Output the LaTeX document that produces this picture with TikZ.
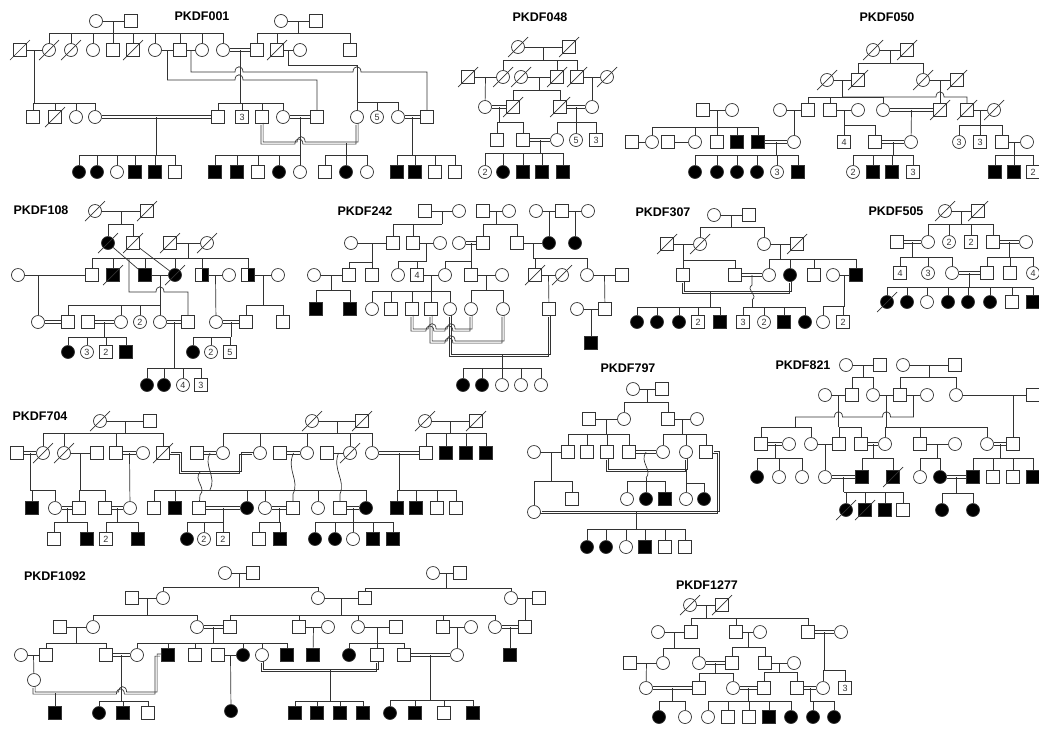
\documentclass[tikz,border=0pt]{standalone}
\usepackage{fontspec}
\setmainfont{Liberation Sans}
\newcommand\dead[1]{\foreach \nd in {#1}{\draw ([shift={(-10pt,-10pt)}]\nd.center) -- ([shift={(10pt,10pt)}]\nd.center);}}
\newcommand\mate[3]{\draw (#1) -- (#2) coordinate[midway] (#3);}
\newcommand\cmate[3]{\path (#1) -- (#2) coordinate[midway] (#3); \draw[con] (#1) -- (#2);}
\newcommand\sib[3]{\draw (#1) -- (#1 |- 0,#2);
  \foreach \kid in {#3}{\draw (\kid.north) -- (\kid.north |- 0,#2) -- (#1 |- 0,#2);}}
\begin{document}
\begin{tikzpicture}[x=1pt, y=-1pt, line width=0.7pt, color=black!80,
  ind/.style={draw, minimum size=13pt, inner sep=0pt, font=\fontsize{9}{9}\selectfont},
  m/.style={ind, rectangle}, f/.style={ind, circle},
  ma/.style={m, fill=black}, fa/.style={f, fill=black},
  mh/.style={m, path picture={\fill[black] (path picture bounding box.north) rectangle (path picture bounding box.south east);}},
  con/.style={draw=none, preaction={draw, transform canvas={yshift=1.2pt}},
    postaction={draw, transform canvas={yshift=-1.2pt}}},
  conp/.style={draw=none, preaction={draw, transform canvas={shift={(-1.1pt,-1.1pt)}}},
    postaction={draw, transform canvas={shift={(1.1pt,1.1pt)}}}},
  title/.style={text=black, font=\bfseries\fontsize{12.5}{12.5}\selectfont}]
\useasboundingbox (0,0) rectangle (1039,729);

% PKDF001
\node[title] (ta) at (202,16) {PKDF001};
\node[f] (a1) at (96,21) {};  \node[m] (a2) at (131,21) {};
\node[f] (a3) at (281,21) {}; \node[m] (a4) at (316,21) {};
\node[m] (a5) at (20,50) {};  \node[f] (a6) at (49,50) {};  \node[f] (a7) at (71,50) {};
\node[f] (a8) at (93,50) {};  \node[m] (a9) at (113,50) {}; \node[m] (a10) at (133,50) {};
\node[f] (a11) at (155,50) {}; \node[m] (a12) at (180,50) {}; \node[f] (a13) at (202,50) {};
\node[f] (a14) at (223,50) {}; \node[m] (a15) at (257,50) {}; \node[m] (a16) at (277,50) {};
\node[f] (a17) at (300,50) {}; \node[m] (a18) at (350,50) {};
\node[m] (a19) at (33,117) {}; \node[m] (a20) at (55,117) {}; \node[f] (a21) at (76,117) {};
\node[f] (a22) at (95,117) {}; \node[m] (a23) at (218,117) {}; \node[m] (a24) at (242,117) {3};
\node[m] (a25) at (262,117) {}; \node[f] (a26) at (283,117) {}; \node[m] (a27) at (317,117) {};
\node[f] (a28) at (357,117) {}; \node[f] (a29) at (377,117) {5}; \node[f] (a30) at (398,117) {};
\node[m] (a31) at (427,117) {};
\node[fa] (a32) at (79,172) {}; \node[fa] (a33) at (97,172) {}; \node[f] (a34) at (117,172) {};
\node[ma] (a35) at (135,172) {}; \node[ma] (a36) at (155,172) {}; \node[m] (a37) at (175,172) {};
\node[ma] (a38) at (215,172) {}; \node[ma] (a39) at (237,172) {}; \node[m] (a40) at (258,172) {};
\node[fa] (a41) at (279,172) {}; \node[f] (a42) at (300,172) {};
\node[m] (a43) at (325,172) {}; \node[fa] (a44) at (346,172) {}; \node[f] (a45) at (367,172) {};
\node[ma] (a46) at (397,172) {}; \node[ma] (a47) at (415,172) {}; \node[m] (a48) at (435,172) {};
\node[m] (a49) at (455,172) {};
\dead{a5,a6,a7,a10,a16,a20}
\mate{a1}{a2}{a1x} \sib{a1x}{33}{a6,a7,a8,a9,a10,a11,a12,a13,a14}
\mate{a3}{a4}{a3x} \sib{a3x}{33}{a15,a16,a18}
\mate{a5}{a6}{a5x} \sib{a5x}{103}{a19,a20,a21,a22}
\mate{a11}{a12}{a11x} \mate{a12}{a13}{a12x}
\cmate{a14}{a15}{a14x} \sib{a14x}{103}{a23,a24,a25,a26}
\mate{a16}{a17}{a16x}
\coordinate (a16y) at (357,65);
\draw (a16x) -- (a16x |- 0,65) -- (a16y);
\sib{a16y}{102}{a28,a29,a30}
\draw (a11x) -- (a11x |- 0,80) -- (235,80) .. controls (235,73) and (243,73) .. (243,80) -| (a27);
\draw (a12x) -- (a12x |- 0,72) -- (235,72) .. controls (235,65) and (243,65) .. (243,72)
  -- (353,72) .. controls (353,65) and (361,65) .. (361,72) -| (a31);
\cmate{a22}{a23}{a22x} \sib{a22x}{155}{a32,a33,a34,a35,a36,a37}
\cmate{a26}{a27}{a26x} \sib{a26x}{155}{a38,a39,a40,a41,a42}
\draw[conp] (a25) -- (a25 |- 0,143) -- (296,143) .. controls (296,136) and (304,136) .. (304,143) -| (a28);
\coordinate (a25x) at (346,143); \sib{a25x}{155}{a43,a44,a45}
\cmate{a30}{a31}{a30x} \sib{a30x}{155}{a46,a47,a48,a49}

% PKDF048
\node[title] (tb) at (540,17) {PKDF048};
\node[f] (b1) at (518,47) {}; \node[m] (b2) at (569,47) {};
\node[m] (b3) at (468,77) {}; \node[f] (b4) at (503,77) {}; \node[f] (b5) at (521,77) {};
\node[m] (b6) at (557,77) {}; \node[m] (b7) at (577,77) {}; \node[f] (b8) at (607,77) {};
\node[f] (b9) at (485,107) {}; \node[m] (b10) at (513,107) {};
\node[m] (b11) at (560,107) {}; \node[f] (b12) at (592,107) {};
\node[m] (b13) at (497,140) {}; \node[m] (b14) at (523,140) {}; \node[f] (b15) at (557,140) {};
\node[f] (b16) at (576,140) {5}; \node[m] (b17) at (596,140) {3};
\node[f] (b18) at (485,172) {2}; \node[fa] (b19) at (503,172) {}; \node[ma] (b20) at (523,172) {};
\node[ma] (b21) at (542,172) {}; \node[ma] (b22) at (563,172) {};
\dead{b1,b2,b3,b4,b5,b6,b7,b8,b10,b11}
\mate{b1}{b2}{b1x} \sib{b1x}{60}{b4,b6,b7}
\mate{b3}{b4}{b3x} \draw (b3x) -- (b9);
\mate{b5}{b6}{b5x} \sib{b5x}{90}{b10,b11}
\mate{b7}{b8}{b7x} \draw (b7x) -- (b12);
\cmate{b9}{b10}{b9x} \sib{b9x}{122}{b13,b14}
\cmate{b11}{b12}{b11x} \sib{b11x}{122}{b15,b16,b17}
\cmate{b14}{b15}{b14x} \sib{b14x}{153}{b18,b19,b20,b21,b22}

% PKDF050
\node[title] (tc) at (887,17) {PKDF050};
\node[f] (c1) at (873,50) {}; \node[m] (c2) at (907,50) {};
\node[f] (c3) at (827,80) {}; \node[m] (c4) at (858,80) {};
\node[f] (c5) at (923,80) {}; \node[m] (c6) at (957,80) {};
\node[m] (c15) at (703,110) {}; \node[f] (c16) at (732,110) {};
\node[f] (c7) at (780,110) {}; \node[m] (c8) at (808,110) {}; \node[m] (c9) at (830,110) {};
\node[f] (c10) at (858,110) {}; \node[f] (c11) at (883,110) {}; \node[m] (c12) at (940,110) {};
\node[m] (c13) at (967,110) {}; \node[f] (c14) at (994,110) {};
\node[m] (c17) at (632,142) {}; \node[f] (c18) at (652,142) {}; \node[m] (c19) at (668,142) {};
\node[f] (c20) at (695,142) {}; \node[m] (c21) at (717,142) {}; \node[ma] (c22) at (737,142) {};
\node[ma] (c23) at (758,142) {}; \node[f] (c24) at (794,142) {}; \node[m] (c25) at (844,142) {4};
\node[m] (c26) at (875,142) {}; \node[f] (c27) at (911,142) {}; \node[f] (c28) at (959,142) {3};
\node[m] (c29) at (980,142) {3}; \node[m] (c30) at (1002,142) {}; \node[f] (c31) at (1027,142) {};
\node[fa] (c32) at (695,172) {}; \node[fa] (c33) at (717,172) {}; \node[fa] (c34) at (737,172) {};
\node[fa] (c35) at (757,172) {}; \node[f] (c36) at (777,172) {3}; \node[ma] (c37) at (798,172) {};
\node[f] (c38) at (853,172) {2}; \node[ma] (c39) at (873,172) {}; \node[ma] (c40) at (892,172) {};
\node[m] (c41) at (913,172) {3};
\node[ma] (c42) at (995,172) {}; \node[ma] (c43) at (1014,172) {}; \node[m] (c44) at (1033,172) {2};
\dead{c1,c2,c3,c4,c5,c6,c12,c13,c14}
\mate{c1}{c2}{c1x} \sib{c1x}{63}{c4,c5}
\mate{c3}{c4}{c3x} \sib{c3x}{97}{c8,c9,c11}
\draw (c3x |- 0,97) -- (936,97) .. controls (936,90) and (944,90) .. (944,97) -| (c13);
\mate{c5}{c6}{c5x} \draw (c5x) -- (c12);
\mate{c15}{c16}{c15x} \sib{c15x}{127}{c18,c20,c21,c22,c23}
\mate{c17}{c18}{c17x} \mate{c19}{c20}{c19x}
\mate{c7}{c8}{c7x} \draw (c7x) -- (c24);
\mate{c9}{c10}{c9x} \sib{c9x}{125}{c25,c26}
\cmate{c11}{c12}{c11x} \draw (c11x) -- (c27);
\mate{c13}{c14}{c13x} \sib{c13x}{125}{c28,c29,c30}
\mate{c30}{c31}{c30x} \sib{c30x}{155}{c42,c43,c44}
\cmate{c23}{c24}{c23x} \sib{c23x}{155}{c32,c33,c34,c35,c36,c37}
\cmate{c26}{c27}{c26x} \sib{c26x}{155}{c38,c39,c40,c41}

% PKDF108
\node[title] (td) at (41,210) {PKDF108};
\node[f] (d1) at (95,211) {}; \node[m] (d2) at (147,211) {};
\node[fa] (d3) at (108,243) {}; \node[m] (d4) at (133,243) {};
\node[m] (d5) at (170,243) {}; \node[f] (d6) at (207,243) {};
\node[f] (d7) at (18,275) {}; \node[m] (d8) at (92,275) {}; \node[ma] (d9) at (113,275) {};
\node[ma] (d10) at (145,275) {}; \node[fa] (d11) at (175,275) {}; \node[mh] (d12) at (202,275) {};
\node[f] (d13) at (229,275) {}; \node[mh] (d14) at (248,275) {}; \node[f] (d15) at (278,275) {};
\node[f] (d16) at (38,322) {}; \node[m] (d17) at (68,322) {}; \node[m] (d18) at (88,322) {};
\node[f] (d19) at (121,322) {}; \node[f] (d20) at (140,322) {2}; \node[f] (d21) at (160,322) {};
\node[m] (d22) at (188,322) {}; \node[f] (d24) at (216,322) {}; \node[m] (d25) at (246,322) {};
\node[m] (d26) at (283,322) {};
\node[fa] (d27) at (68,352) {}; \node[f] (d28) at (87,352) {3}; \node[m] (d29) at (106,352) {2};
\node[ma] (d30) at (126,352) {};
\node[fa] (d35) at (193,352) {}; \node[f] (d36) at (211,352) {2}; \node[m] (d37) at (230,352) {5};
\node[fa] (d31) at (147,385) {}; \node[fa] (d32) at (164,385) {}; \node[f] (d33) at (183,385) {4};
\node[m] (d34) at (201,385) {3};
\dead{d1,d2,d3,d4,d5,d6,d9,d11}
\mate{d1}{d2}{d1x} \sib{d1x}{224}{d3,d4}
\mate{d5}{d6}{d5x} \sib{d5x}{258}{d8,d9,d10,d11,d12,d14}
\draw (d3) -- (d10); \draw (d4) -- (d11);
\draw (d7) -- (d8);
\coordinate (d7x) at (38,275); \draw (d7x) -- (d16);
\mate{d10}{d11}{d10x} \sib{d10x}{305}{d17,d19,d20,d21}
\coordinate (d9x) at (129,258);
\draw (d9x) -- (129,292) -- (156,292) .. controls (156,285) and (164,285) .. (164,292) -| (d22);
\mate{d12}{d13}{d12x} \draw (d12x) -- (d24);
\mate{d14}{d15}{d14x} \sib{d14x}{305}{d25,d26}
\cmate{d16}{d17}{d16x}
\cmate{d18}{d19}{d18x} \sib{d18x}{337}{d27,d28,d29,d30}
\cmate{d21}{d22}{d21x} \sib{d21x}{368}{d31,d32,d33,d34}
\cmate{d24}{d25}{d24x} \sib{d24x}{337}{d35,d36,d37}

% PKDF242
\node[title] (te) at (365,211) {PKDF242};
\node[m] (e1) at (425,211) {}; \node[f] (e2) at (459,211) {}; \node[m] (e3) at (483,211) {};
\node[f] (e4) at (509,211) {}; \node[f] (e5) at (536,211) {}; \node[m] (e6) at (562,211) {};
\node[f] (e7) at (588,211) {};
\node[f] (e8) at (351,243) {}; \node[m] (e9) at (393,243) {}; \node[m] (e10) at (413,243) {};
\node[f] (e11) at (440,243) {}; \node[f] (e12) at (459,243) {}; \node[m] (e13) at (483,243) {};
\node[m] (e14) at (517,243) {}; \node[fa] (e15) at (549,243) {}; \node[fa] (e16) at (575,243) {};
\node[f] (e17) at (314,275) {}; \node[m] (e18) at (349,275) {}; \node[m] (e19) at (372,275) {};
\node[f] (e20) at (398,275) {}; \node[m] (e21) at (417,275) {4}; \node[f] (e22) at (445,275) {};
\node[m] (e23) at (471,275) {}; \node[f] (e24) at (502,275) {}; \node[m] (e25) at (535,275) {};
\node[f] (e26) at (562,275) {}; \node[f] (e27) at (587,275) {}; \node[m] (e28) at (622,275) {};
\node[ma] (e29) at (316,309) {}; \node[ma] (e30) at (350,309) {}; \node[f] (e31) at (372,309) {};
\node[m] (e32) at (391,309) {}; \node[m] (e33) at (412,309) {}; \node[m] (e34) at (431,309) {};
\node[f] (e35) at (450,309) {}; \node[f] (e36) at (471,309) {}; \node[f] (e37) at (503,309) {};
\node[m] (e38) at (549,309) {}; \node[f] (e39) at (577,309) {}; \node[m] (e40) at (605,309) {};
\node[ma] (e41) at (591,343) {};
\node[fa] (e42) at (463,385) {}; \node[fa] (e43) at (482,385) {}; \node[f] (e44) at (502,385) {};
\node[f] (e45) at (521,385) {}; \node[f] (e46) at (541,385) {};
\dead{e25,e26}
\mate{e1}{e2}{e1x} \sib{e1x}{224}{e9,e10}
\mate{e3}{e4}{e3x} \sib{e3x}{224}{e13,e14}
\mate{e5}{e6}{e5x} \draw (e5x) -- (e15);
\mate{e6}{e7}{e6x} \draw (e6x) -- (e16);
\mate{e8}{e9}{e8x} \sib{e8x}{262}{e18,e19}
\mate{e10}{e11}{e10x} \sib{e10x}{261}{e20,e21}
\cmate{e12}{e13}{e12x} \sib{e12x}{261}{e22,e23}
\mate{e14}{e15}{e14x} \sib{e14x}{258}{e25,e27}
\mate{e17}{e18}{e17x} \sib{e17x}{290}{e29,e30}
\mate{e21}{e22}{e21x} \sib{e21x}{291}{e31,e32,e33,e34,e35}
\mate{e23}{e24}{e23x} \sib{e23x}{290}{e36,e37}
\mate{e25}{e26}{e25x} \draw (e25x) -- (e38);
\mate{e27}{e28}{e27x} \draw (e27x) -- (e40);
\mate{e39}{e40}{e39x} \draw (e39x) -- (e41);
\draw[conp] (e33) -- (e33 |- 0,330) -- (427,330) .. controls (427,323) and (435,323) .. (435,330)
  -- (446,330) .. controls (446,323) and (454,323) .. (454,330) -| (e36);
\draw[conp] (e34) -- (e34 |- 0,342) -- (446,342) .. controls (446,335) and (454,335) .. (454,342) -| (e37);
\draw[conp] (e35) -- (e35 |- 0,355) -| (e38);
\coordinate (e35x) at (502,355); \sib{e35x}{368}{e42,e43,e44,e45,e46}

% PKDF307
\node[title] (tf) at (663,212) {PKDF307};
\node[f] (f1) at (714,215) {}; \node[m] (f2) at (749,215) {};
\node[m] (f3) at (667,244) {}; \node[f] (f4) at (700,244) {};
\node[f] (f5) at (764,244) {}; \node[m] (f6) at (797,244) {};
\node[m] (f7) at (683,275) {}; \node[m] (f8) at (735,275) {}; \node[f] (f9) at (769,275) {};
\node[fa] (f10) at (790,275) {}; \node[m] (f11) at (814,275) {}; \node[f] (f12) at (833,275) {};
\node[ma] (f13) at (856,275) {};
\node[fa] (f14) at (637,322) {}; \node[fa] (f15) at (657,322) {}; \node[fa] (f16) at (679,322) {};
\node[m] (f17) at (698,322) {2}; \node[ma] (f18) at (720,322) {};
\node[m] (f19) at (743,322) {3}; \node[f] (f20) at (764,322) {2}; \node[ma] (f21) at (784,322) {};
\node[fa] (f22) at (805,322) {}; \node[f] (f23) at (823,322) {}; \node[m] (f24) at (843,322) {2};
\dead{f3,f4,f6}
\mate{f1}{f2}{f1x} \sib{f1x}{227}{f4,f5}
\mate{f3}{f4}{f3x} \sib{f3x}{260}{f7,f8}
\mate{f5}{f6}{f5x} \sib{f5x}{259}{f9,f10,f11,f13}
\mate{f12}{f13}{f12x} \sib{f12x}{306}{f23,f24}
\draw[conp] (f7) -- (f7 |- 0,292) -| (f10);
\coordinate (f7x) at (710,292); \sib{f7x}{307}{f14,f15,f16,f17,f18}
\cmate{f8}{f9}{f8x}
\coordinate (f8y) at (752,300);
\draw (f8x) -- (752,285) .. controls (745,290) and (759,295) .. (f8y);
\sib{f8y}{307}{f19,f20,f21,f22}

% PKDF505
\node[title] (tg) at (896,211) {PKDF505};
\node[f] (g1) at (945,211) {}; \node[m] (g2) at (978,211) {};
\node[m] (g3) at (897,242) {}; \node[f] (g4) at (928,242) {}; \node[f] (g5) at (949,242) {2};
\node[m] (g6) at (971,242) {2}; \node[m] (g7) at (993,242) {}; \node[f] (g8) at (1026,242) {};
\node[m] (g9) at (900,273) {4}; \node[f] (g10) at (928,273) {3}; \node[f] (g11) at (952,273) {};
\node[m] (g12) at (987,273) {}; \node[m] (g13) at (1010,273) {}; \node[f] (g14) at (1033,273) {4};
\node[fa] (g15) at (887,302) {}; \node[fa] (g16) at (907,302) {}; \node[f] (g17) at (927,302) {};
\node[fa] (g18) at (948,302) {}; \node[fa] (g19) at (968,302) {}; \node[fa] (g20) at (990,302) {};
\node[m] (g21) at (1012,302) {}; \node[ma] (g22) at (1033,302) {};
\dead{g1,g2,g15}
\mate{g1}{g2}{g1x} \sib{g1x}{224}{g4,g5,g6,g7}
\cmate{g3}{g4}{g3x} \sib{g3x}{257}{g9,g10,g11}
\cmate{g7}{g8}{g7x} \sib{g7x}{257}{g12,g13,g14}
\cmate{g11}{g12}{g11x} \sib{g11x}{287}{g15,g16,g17,g18,g19,g20,g21,g22}

% PKDF704
\node[title] (th) at (40,416) {PKDF704};
\node[f] (h1) at (100,421) {}; \node[m] (h2) at (150,421) {};
\node[f] (h40) at (312,421) {}; \node[m] (h41) at (362,421) {};
\node[f] (h42) at (425,421) {}; \node[m] (h43) at (476,421) {};
\node[m] (h3) at (17,453) {}; \node[f] (h4) at (43,453) {}; \node[f] (h5) at (64,453) {};
\node[m] (h6) at (97,453) {}; \node[m] (h7) at (116,453) {}; \node[f] (h8) at (143,453) {};
\node[m] (h9) at (163,453) {}; \node[m] (h10) at (197,453) {}; \node[f] (h11) at (223,453) {};
\node[f] (h12) at (260,453) {}; \node[m] (h13) at (280,453) {}; \node[f] (h14) at (307,453) {};
\node[m] (h15) at (327,453) {}; \node[f] (h16) at (350,453) {}; \node[f] (h17) at (372,453) {};
\node[m] (h18) at (426,453) {}; \node[ma] (h19) at (446,453) {}; \node[ma] (h20) at (466,453) {};
\node[ma] (h21) at (486,453) {};
\node[ma] (h22) at (32,508) {}; \node[f] (h23) at (55,508) {}; \node[m] (h24) at (79,508) {};
\node[m] (h25) at (105,508) {}; \node[f] (h26) at (130,508) {}; \node[m] (h27) at (154,508) {};
\node[ma] (h28) at (175,508) {}; \node[m] (h29) at (199,508) {}; \node[fa] (h30) at (247,508) {};
\node[f] (h31) at (265,508) {}; \node[m] (h32) at (293,508) {}; \node[f] (h33) at (318,508) {};
\node[m] (h34) at (340,508) {}; \node[fa] (h35) at (366,508) {}; \node[ma] (h36) at (397,508) {};
\node[ma] (h37) at (416,508) {}; \node[m] (h38) at (437,508) {}; \node[m] (h39) at (456,508) {};
\node[m] (h44) at (54,539) {}; \node[ma] (h45) at (87,539) {}; \node[m] (h46) at (106,539) {2};
\node[ma] (h47) at (138,539) {}; \node[fa] (h48) at (187,539) {}; \node[f] (h49) at (204,539) {2};
\node[m] (h50) at (223,539) {2}; \node[m] (h51) at (259,539) {}; \node[ma] (h52) at (280,539) {};
\node[fa] (h53) at (315,539) {}; \node[fa] (h54) at (335,539) {}; \node[f] (h55) at (353,539) {};
\node[ma] (h56) at (373,539) {}; \node[ma] (h57) at (393,539) {};
\dead{h1,h4,h5,h9,h16,h40,h41,h42,h43}
\mate{h1}{h2}{h1x} \sib{h1x}{433}{h4,h5,h7,h9}
\mate{h40}{h41}{h40x} \sib{h40x}{433}{h11,h12,h14,h16,h17}
\mate{h42}{h43}{h42x} \sib{h42x}{433}{h18,h19,h20,h21}
\cmate{h3}{h4}{h3x} \sib{h3x}{490}{h22,h23}
\mate{h5}{h6}{h5x} \sib{h5x}{490}{h24,h25}
\cmate{h7}{h8}{h7x} \draw (h7x) -- (h26);
\draw[conp] (h9) -- (180,453) -- (180,472) -- (240,472) -- (240,453) -- (h12);
\coordinate (h9x) at (200,472);
\draw (h9x) .. controls (193,480) and (207,488) .. (200,495) -- (h29);
\cmate{h10}{h11}{h10x}
\coordinate (h10y) at (210,490);
\draw (h10x) .. controls (203,465) and (217,477) .. (h10y);
\sib{h10y}{490}{h27,h28,h30,h31,h33,h35}
\cmate{h13}{h14}{h13x}
\draw (h13x) .. controls (286,470) and (300,480) .. (293,494) -- (h32);
\mate{h15}{h16}{h15x}
\draw (h15x) .. controls (332,470) and (346,480) .. (340,494) -- (h34);
\cmate{h17}{h18}{h17x} \sib{h17x}{490}{h36,h37,h38,h39}
\cmate{h23}{h24}{h23x} \sib{h23x}{522}{h44,h45}
\cmate{h25}{h26}{h25x} \sib{h25x}{522}{h46,h47}
\cmate{h29}{h30}{h29x} \sib{h29x}{522}{h48,h49,h50}
\cmate{h31}{h32}{h31x} \sib{h31x}{522}{h51,h52}
\cmate{h34}{h35}{h34x} \sib{h34x}{522}{h53,h54,h55,h56,h57}

% PKDF797
\node[title] (ti) at (628,368) {PKDF797};
\node[f] (i1) at (633,389) {}; \node[m] (i2) at (662,389) {};
\node[m] (i3) at (589,419) {}; \node[f] (i4) at (624,419) {};
\node[m] (i5) at (668,419) {}; \node[f] (i6) at (697,419) {};
\node[f] (i7) at (534,452) {}; \node[m] (i8) at (568,452) {}; \node[m] (i9) at (587,452) {};
\node[m] (i10) at (607,452) {}; \node[m] (i11) at (629,452) {}; \node[f] (i12) at (663,452) {};
\node[f] (i13) at (686,452) {}; \node[m] (i14) at (706,452) {};
\node[f] (i15) at (534,512) {}; \node[m] (i16) at (572,499) {};
\node[f] (i17) at (627,499) {}; \node[fa] (i18) at (646,499) {}; \node[ma] (i19) at (665,499) {};
\node[f] (i20) at (686,499) {}; \node[fa] (i21) at (704,499) {};
\node[fa] (i22) at (587,547) {}; \node[fa] (i23) at (606,547) {}; \node[f] (i24) at (626,547) {};
\node[ma] (i25) at (645,547) {}; \node[m] (i26) at (665,547) {}; \node[m] (i27) at (685,547) {};
\mate{i1}{i2}{i1x} \sib{i1x}{402}{i4,i5}
\mate{i3}{i4}{i3x} \sib{i3x}{434}{i8,i9,i10,i11}
\mate{i5}{i6}{i5x} \sib{i5x}{434}{i12,i13,i14}
\mate{i7}{i8}{i7x} \sib{i7x}{481}{i15,i16}
\draw[conp] (i10) -- (i10 |- 0,470) -| (i13);
\coordinate (i10x) at (686,470); \sib{i10x}{483}{i20,i21}
\cmate{i11}{i12}{i11x}
\coordinate (i11y) at (646,478);
\draw (i11x) .. controls (639,462) and (653,470) .. (i11y);
\sib{i11y}{481}{i17,i18,i19}
\draw[conp] (i15) -- (718,512) |- (i14);
\coordinate (i15x) at (636,512); \sib{i15x}{529}{i22,i23,i24,i25,i26,i27}

% PKDF821
\node[title] (tj) at (803,365) {PKDF821};
\node[f] (j1) at (846,365) {}; \node[m] (j2) at (880,365) {};
\node[f] (j3) at (903,365) {}; \node[m] (j4) at (955,365) {};
\node[f] (j5) at (825,395) {}; \node[m] (j6) at (852,395) {}; \node[f] (j7) at (873,395) {};
\node[m] (j8) at (900,395) {}; \node[f] (j9) at (927,395) {}; \node[f] (j10) at (956,395) {};
\node[m] (j11) at (1033,395) {};
\node[m] (j12) at (761,444) {}; \node[f] (j13) at (789,444) {}; \node[f] (j14) at (811,444) {};
\node[m] (j15) at (839,444) {}; \node[m] (j16) at (861,444) {}; \node[f] (j17) at (885,444) {};
\node[m] (j18) at (920,444) {}; \node[f] (j19) at (955,444) {}; \node[f] (j20) at (987,444) {};
\node[m] (j21) at (1013,444) {};
\node[fa] (j22) at (757,477) {}; \node[f] (j23) at (779,477) {}; \node[f] (j24) at (802,477) {};
\node[f] (j25) at (825,477) {}; \node[ma] (j26) at (862,477) {}; \node[ma] (j27) at (893,477) {};
\node[f] (j28) at (920,477) {}; \node[fa] (j29) at (940,477) {}; \node[ma] (j30) at (973,477) {};
\node[m] (j31) at (993,477) {}; \node[m] (j32) at (1013,477) {}; \node[ma] (j33) at (1033,477) {};
\node[fa] (j34) at (846,510) {}; \node[ma] (j35) at (865,510) {}; \node[ma] (j36) at (885,510) {};
\node[m] (j37) at (903,510) {}; \node[fa] (j38) at (942,510) {}; \node[fa] (j39) at (973,510) {};
\dead{j27,j34,j35}
\mate{j1}{j2}{j1x} \sib{j1x}{377}{j6,j7}
\mate{j3}{j4}{j3x} \sib{j3x}{377}{j8,j10}
\mate{j5}{j6}{j5x} \sib{j5x}{427}{j15,j16}
\mate{j7}{j8}{j7x} \sib{j7x}{427}{j17,j18,j20}
\mate{j8}{j9}{j8x}
\coordinate (j8y) at (795,417);
\draw (j8x) -- (j8x |- 0,417) -- (890.5,417) .. controls (890.5,410) and (882.5,410) .. (882.5,417)
  -- (842.5,417) .. controls (842.5,410) and (834.5,410) .. (834.5,417) -- (j8y);
\sib{j8y}{427}{j12,j14}
\draw (j10) -- (j11);
\coordinate (j10x) at (1013,395); \draw (j10x) -- (j21);
\cmate{j12}{j13}{j12x} \sib{j12x}{458}{j22,j23,j24}
\mate{j14}{j15}{j14x} \draw (j14x) -- (j25);
\cmate{j16}{j17}{j16x} \sib{j16x}{458}{j26,j27}
\mate{j18}{j19}{j18x} \sib{j18x}{458}{j28,j29}
\cmate{j20}{j21}{j20x} \sib{j20x}{458}{j30,j31,j32,j33}
\cmate{j25}{j26}{j25x} \sib{j25x}{492}{j34,j35,j36,j37}
\cmate{j29}{j30}{j29x} \sib{j29x}{493}{j38,j39}

% PKDF1092
\node[title] (tk) at (55,576) {PKDF1092};
\node[f] (k1) at (225,573) {}; \node[m] (k2) at (253,573) {};
\node[f] (k6) at (433,573) {}; \node[m] (k7) at (460,573) {};
\node[m] (k3) at (132,598) {}; \node[f] (k4) at (163,598) {}; \node[f] (k5) at (318,598) {};
\node[m] (k8) at (365,598) {}; \node[f] (k9) at (511,598) {}; \node[m] (k10) at (539,598) {};
\node[m] (k11) at (60,627) {}; \node[f] (k12) at (93,627) {}; \node[f] (k13) at (197,627) {};
\node[m] (k14) at (230,627) {}; \node[m] (k15) at (299,627) {}; \node[f] (k16) at (328,627) {};
\node[f] (k17) at (358,627) {}; \node[m] (k18) at (396,627) {}; \node[m] (k19) at (443,627) {};
\node[f] (k20) at (471,627) {}; \node[f] (k21) at (495,627) {}; \node[m] (k22) at (525,627) {};
\node[f] (k23) at (21,655) {}; \node[m] (k24) at (46,655) {}; \node[m] (k25) at (106,655) {};
\node[f] (k26) at (137,655) {}; \node[ma] (k27) at (168,655) {}; \node[m] (k28) at (195,655) {};
\node[m] (k29) at (218,655) {}; \node[fa] (k30) at (243,655) {}; \node[f] (k31) at (262,655) {};
\node[ma] (k33) at (287,655) {}; \node[ma] (k34) at (313,655) {}; \node[fa] (k35) at (349,655) {};
\node[m] (k36) at (377,655) {}; \node[m] (k37) at (404,655) {}; \node[f] (k38) at (457,655) {};
\node[ma] (k39) at (510,655) {};
\node[f] (k40) at (34,680) {};
\node[ma] (k44) at (55,713) {}; \node[fa] (k45) at (99,713) {}; \node[ma] (k46) at (123,713) {};
\node[m] (k47) at (148,713) {}; \node[fa] (k48) at (231,711) {};
\node[ma] (k49) at (295,713) {}; \node[ma] (k50) at (317,713) {}; \node[ma] (k51) at (340,713) {};
\node[ma] (k52) at (363,713) {}; \node[fa] (k53) at (390,713) {}; \node[ma] (k54) at (415,713) {};
\node[m] (k55) at (444,713) {}; \node[ma] (k56) at (473,713) {};
\mate{k1}{k2}{k1x} \sib{k1x}{587}{k4,k5}
\mate{k6}{k7}{k6x} \sib{k6x}{588}{k8,k9}
\mate{k3}{k4}{k3x} \sib{k3x}{615}{k12,k13}
\mate{k5}{k8}{k5x} \sib{k5x}{615}{k14,k15,k17,k19,k21}
\mate{k9}{k10}{k9x} \draw (k9x) -- (k22);
\mate{k11}{k12}{k11x} \sib{k11x}{643}{k24,k25}
\cmate{k13}{k14}{k13x} \sib{k13x}{643}{k26,k27,k28,k30,k31,k33}
\mate{k15}{k16}{k15x} \draw (k15x) -- (k34);
\mate{k17}{k18}{k17x} \sib{k17x}{643}{k35,k36,k37}
\mate{k19}{k20}{k19x} \draw (k19x) -- (k38);
\cmate{k21}{k22}{k21x} \draw (k21x) -- (k39);
\mate{k23}{k24}{k23x} \draw (k23x) -- (k40);
\mate{k29}{k30}{k29x} \draw (k29x) -- (k48);
\cmate{k25}{k26}{k25x} \sib{k25x}{701}{k45,k46,k47}
\draw[conp] (k40) -- (k40 |- 0,693) -- (117.5,693) .. controls (117.5,686) and (125.5,686) .. (125.5,693)
  -- (156,693) |- (k27);
\coordinate (k40x) at (55,693); \draw (k40x) -- (k44);
\draw[conp] (k31) -- (k31 |- 0,670) -| (k36);
\coordinate (k31x) at (330,670); \sib{k31x}{701}{k49,k50,k51,k52}
\cmate{k37}{k38}{k37x} \sib{k37x}{700}{k53,k54,k55,k56}

% PKDF1277
\node[title] (tl) at (707,585) {PKDF1277};
\node[f] (l1) at (690,605) {}; \node[m] (l2) at (722,605) {};
\node[f] (l3) at (658,632) {}; \node[m] (l4) at (691,632) {}; \node[m] (l5) at (736,632) {};
\node[f] (l6) at (760,632) {}; \node[m] (l7) at (808,632) {}; \node[f] (l8) at (841,632) {};
\node[m] (l9) at (630,663) {}; \node[f] (l10) at (663,663) {}; \node[f] (l11) at (699,663) {};
\node[m] (l12) at (732,663) {}; \node[m] (l13) at (765,663) {}; \node[f] (l14) at (794,663) {};
\node[f] (l15) at (646,688) {}; \node[m] (l16) at (699,688) {}; \node[f] (l17) at (733,688) {};
\node[m] (l18) at (764,688) {}; \node[m] (l19) at (797,688) {}; \node[f] (l20) at (823,688) {};
\node[m] (l21) at (845,688) {3};
\node[fa] (l22) at (659,717) {}; \node[f] (l23) at (685,717) {}; \node[f] (l24) at (708,717) {};
\node[m] (l25) at (728,717) {}; \node[m] (l26) at (749,717) {}; \node[ma] (l27) at (769,717) {};
\node[fa] (l28) at (791,717) {}; \node[fa] (l29) at (813,717) {}; \node[fa] (l30) at (834,717) {};
\dead{l1,l2}
\mate{l1}{l2}{l1x} \sib{l1x}{618}{l4,l5,l7}
\mate{l3}{l4}{l3x} \sib{l3x}{648}{l10,l11}
\mate{l5}{l6}{l5x} \sib{l5x}{647}{l12,l13}
\cmate{l7}{l8}{l7x} \sib{l7x}{670}{l20,l21}
\mate{l9}{l10}{l9x} \draw (l9x) -- (l15);
\cmate{l11}{l12}{l11x} \sib{l11x}{673}{l16,l17}
\mate{l13}{l14}{l13x} \sib{l13x}{672}{l18,l19}
\cmate{l15}{l16}{l15x} \sib{l15x}{701}{l22,l23}
\cmate{l17}{l18}{l17x} \sib{l17x}{701}{l24,l25,l26,l27,l28}
\cmate{l19}{l20}{l19x} \sib{l19x}{701}{l29,l30}
\end{tikzpicture}
\end{document}
